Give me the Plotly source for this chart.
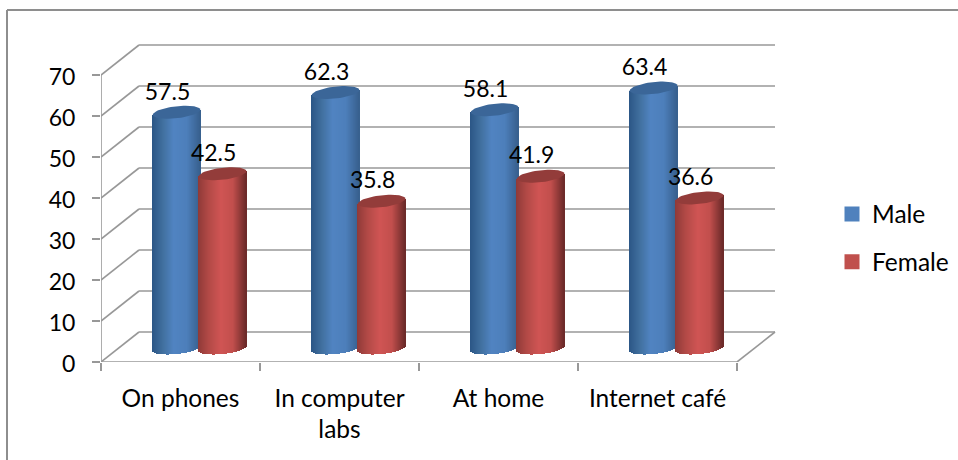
import numpy as np
import plotly.graph_objects as go

categories = ["On phones", "In computer labs", "At home", "Internet café"]
tick_labels = ["On phones", "In computer<br>labs", "At home", "Internet café"]
male = [57.5, 62.3, 58.1, 63.4]
female = [42.5, 35.8, 41.9, 36.6]
y_ticks = [0, 10, 20, 30, 40, 50, 60, 70]

# pixel geometry of the picture
L, R, T, B = 101, 958, 38, 362
PX_X = 159.0          # pixels per category
PX_Y = 4.1            # pixels per value unit
DX = 38 / PX_X        # depth offset of the back wall
DY = 30 / PX_Y
BASE = 14 / PX_Y      # cylinders stand half-way along the floor
W = 47.5 / PX_X
RIM = 6 / PX_Y
SHEAR = 2.5 / PX_Y
N = 48
GRID = "#989898"
FONT = "Lato"
FS_NUM = 23
FS_TXT = 24.5

SERIES = [
    dict(name="Male", vals=male, off=0.475, legend="#4f81bd", cap="#3b6698",
         stops=[(-1, "#2b5686"), (-0.55, "#41709f"), (-0.1, "#5184c2"), (0.45, "#4d7fbb"), (1, "#38608e")]),
    dict(name="Female", vals=female, off=0.765, legend="#c0504d", cap="#933c3a",
         stops=[(-1, "#8f3a38"), (-0.55, "#b34a47"), (-0.05, "#d05554"), (0.45, "#c24f4d"), (1, "#6b2a29")]),
]


def hex2rgb(h):
    return np.array([int(h[i:i + 2], 16) for i in (1, 3, 5)], float)


def grad(stops, u):
    us = [s[0] for s in stops]
    cs = np.array([hex2rgb(s[1]) for s in stops])
    return "rgb(%d,%d,%d)" % tuple(np.interp(u, us, cs[:, k]) for k in range(3))


fig = go.Figure()
shapes = []

# back wall gridlines, below the cylinders
for v in y_ticks:
    shapes.append(dict(type="line", xref="x", yref="y", layer="below",
                       x0=DX, x1=4 + DX, y0=v + DY, y1=v + DY,
                       line=dict(color=GRID, width=1.6)))

# frame round the chart (left and top edges show)
for x0, y0, x1, y1 in [(7, 10, 958, 10), (7, 10, 7, 460)]:
    shapes.append(dict(type="line", xref="paper", yref="paper",
                       x0=(x0 - L) / (R - L), x1=(x1 - L) / (R - L),
                       y0=(B - y0) / (B - T), y1=(B - y1) / (B - T),
                       line=dict(color="#8e8e8e", width=2)))

# front axes and side-wall diagonals
lx, ly = [0, 0, None, 0, 4, None], [0, 70, None, 0, 0, None]
for v in y_ticks:
    lx += [0, DX, None]
    ly += [v, v + DY, None]
lx += [4, 4 + DX]
ly += [0, DY]
fig.add_trace(go.Scatter(x=lx, y=ly, mode="lines", line=dict(color=GRID, width=1.6),
                         cliponaxis=False, showlegend=False, hoverinfo="skip"))

# cylinders
us = (np.arange(N) + 0.5) / N * 2 - 1
for s in SERIES:
    xs, bases, heights, cols, widths = [], [], [], [], []
    for i, v in enumerate(s["vals"]):
        c = i + s["off"]
        for u in us:
            bot = BASE + SHEAR * u - RIM * np.sqrt(1 - u * u)
            top = BASE + v + SHEAR * u
            xs.append(c + u * W / 2)
            bases.append(bot)
            heights.append(top - bot)
            cols.append(grad(s["stops"], u))
            widths.append(W / N * 1.25)
    fig.add_trace(go.Bar(x=xs, y=heights, base=bases, width=widths,
                         marker=dict(color=cols, line=dict(width=0)),
                         showlegend=False, hoverinfo="skip"))

# cylinder caps
t = np.linspace(0, 2 * np.pi, 60)
for s in SERIES:
    for i, v in enumerate(s["vals"]):
        c = i + s["off"]
        cu = np.cos(t)
        fig.add_trace(go.Scatter(x=c + cu * W / 2,
                                 y=BASE + v + SHEAR * cu + RIM * np.sin(t),
                                 mode="lines", fill="toself", fillcolor=s["cap"],
                                 line=dict(width=0, color=s["cap"]),
                                 showlegend=False, hoverinfo="skip"))

# data labels
for s in SERIES:
    fig.add_trace(go.Scatter(
        x=[i + s["off"] - 9 / PX_X for i in range(len(categories))],
        y=[BASE + v + 18.5 / PX_Y for v in s["vals"]],
        mode="text", text=[f"{v:.1f}" for v in s["vals"]],
        textposition="middle center", cliponaxis=False,
        textfont=dict(family=FONT, size=FS_NUM, color="#000000"),
        showlegend=False, hoverinfo="skip"))

# legend entries
for k, s in enumerate(SERIES):
    fig.add_trace(go.Scatter(x=[None], y=[None], mode="markers", name=s["name"],
                             legendgroup=s["name"],
                             marker=dict(symbol="square", size=15, color=s["legend"])))

fig.update_layout(
    width=958, height=460, autosize=False,
    margin=dict(l=L, r=958 - R, t=T, b=460 - B, pad=0),
    paper_bgcolor="white", plot_bgcolor="white",
    barmode="overlay", bargap=0,
    font=dict(family=FONT, size=FS_TXT, color="#000000"),
    shapes=shapes,
    showlegend=True,
    legend=dict(x=(832 - L) / (R - L), y=(B - 191.5) / (B - T), xanchor="left", yanchor="top",
                tracegroupgap=13, bgcolor="rgba(0,0,0,0)",
                font=dict(family=FONT, size=FS_TXT), traceorder="grouped"),
    xaxis=dict(range=[0, (R - L) / PX_X], showgrid=False, zeroline=False, showline=False,
               tickmode="array", tickvals=[i + 0.5 for i in range(len(categories))],
               ticktext=tick_labels, ticks="", ticklabelstandoff=19,
               tickangle=0, fixedrange=True,
               minor=dict(tickmode="array", tickvals=[0, 1, 2, 3, 4], ticks="outside",
                          ticklen=8, tickwidth=1.6, tickcolor=GRID, showgrid=False)),
    yaxis=dict(range=[0, (B - T) / PX_Y], showgrid=False, zeroline=False, showline=False,
               tickmode="array", tickvals=y_ticks, ticks="outside", ticklen=8,
               tickwidth=1.6, tickcolor=GRID, fixedrange=True, ticklabelstandoff=12,
               ticklabelshift=2, tickfont=dict(family=FONT, size=FS_NUM)),
)

fig.write_html("out.html", config=dict(displayModeBar=False),
               post_script="document.body.style.margin='0';")
